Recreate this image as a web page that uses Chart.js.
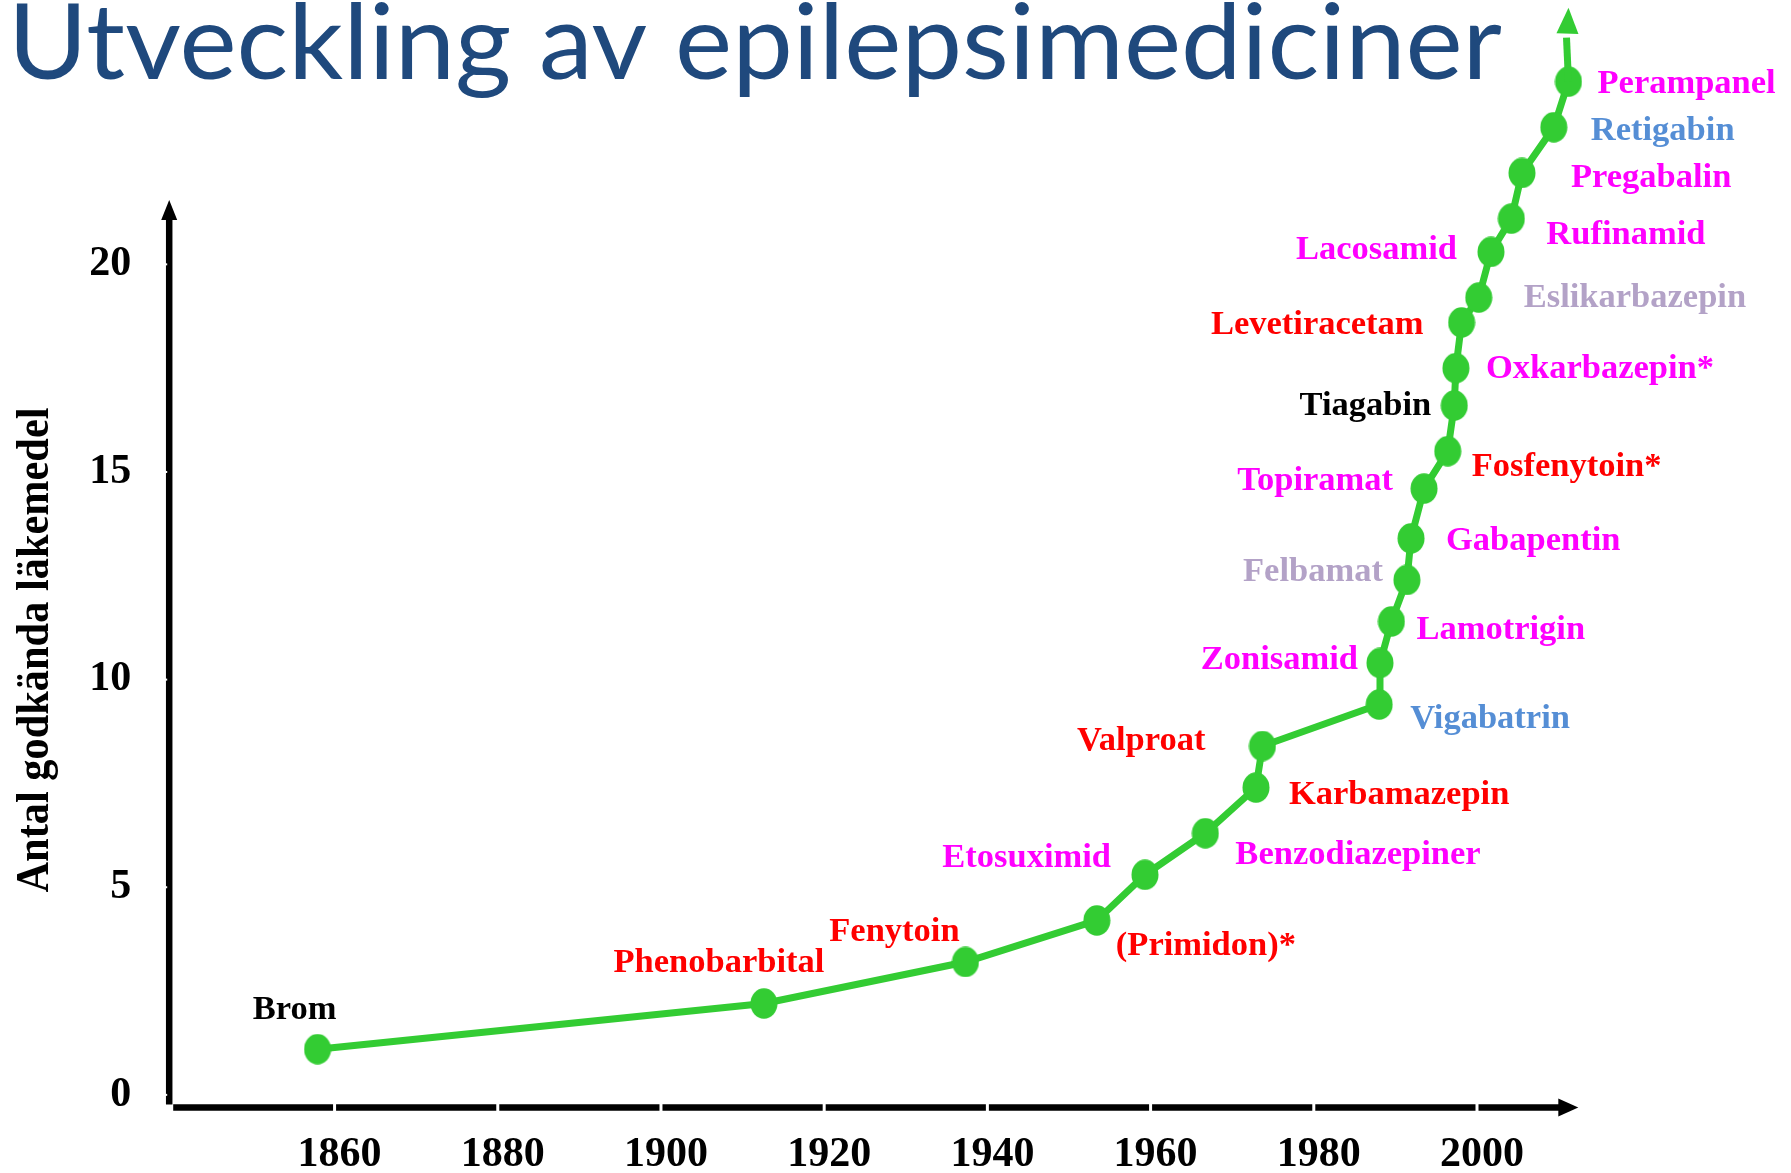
<!DOCTYPE html>
<html lang="sv">
<head>
<meta charset="utf-8">
<title>Utveckling av epilepsimediciner</title>
<script src="https://cdn.jsdelivr.net/npm/chart.js@4.4.1/dist/chart.umd.min.js"></script>
<style>
  html, body { margin: 0; padding: 0; background: #fff; }
  #chart { display: block; }
</style>
</head>
<body>
<canvas id="chart" width="1791" height="1173"></canvas>
<script>
// läkemedel i den ordning de kom
const drugs = [
  "Brom", "Phenobarbital", "Fenytoin", "(Primidon)*", "Etosuximid",
  "Benzodiazepiner", "Karbamazepin", "Valproat", "Vigabatrin", "Zonisamid",
  "Lamotrigin", "Felbamat", "Gabapentin", "Topiramat", "Fosfenytoin*",
  "Tiagabin", "Oxkarbazepin*", "Levetiracetam", "Eslikarbazepin", "Lacosamid",
  "Rufinamid", "Pregabalin", "Retigabin", "Perampanel",
];

// årtal (x)
const approvalYears = [
  1857.3, 1912.0, 1936.7, 1952.8, 1958.7,
  1966.1, 1972.3, 1973.1, 1987.4, 1987.5,
  1988.9, 1990.8, 1991.3, 1992.9, 1995.8,
  1996.6, 1996.8, 1997.5, 1999.6, 2001.1,
  2003.6, 2004.9, 2008.8, 2010.6,
];

// antal godkända läkemedel (y)
const drugCount = [
  1.1, 2.2, 3.2, 4.2, 5.3,
  6.3, 7.4, 8.4, 9.4, 10.4,
  11.4, 12.4, 13.4, 14.6, 15.5,
  16.6, 17.5, 18.6, 19.2, 20.3,
  21.1, 22.2, 23.3, 24.4,
];

const xTickYears = [1860, 1880, 1900, 1920, 1940, 1960, 1980, 2000];
const yTickValues = [0, 5, 10, 15, 20];

// färger
const GREEN = "#33cc33";
const RED = "#ff0000";
const MAGENTA = "#ff00ff";
const BLUE = "#558ed5";
const LILAC = "#b3a2c7";
const BLACK = "#000000";

// etikett: färg, justering, dx, dy (px från punkten)
const labelLayout = [
  [BLACK, "center", -23, -39],
  [RED, "center", -45, -40],
  [RED, "center", -71, -30],
  [RED, "left", 19, 26],
  [MAGENTA, "right", -34, -17],
  [MAGENTA, "left", 30, 22],
  [RED, "left", 33, 8],
  [RED, "right", -57, -5],
  [BLUE, "left", 31, 15],
  [MAGENTA, "right", -22, -3],
  [MAGENTA, "left", 25, 9],
  [LILAC, "right", -24, -8],
  [MAGENTA, "left", 35, 3],
  [MAGENTA, "right", -31, -7],
  [RED, "left", 24, 16],
  [BLACK, "right", -23, 1],
  [MAGENTA, "left", 30, 1],
  [RED, "right", -38, 3],
  [LILAC, "left", 45, 1],
  [MAGENTA, "right", -34, -2],
  [MAGENTA, "left", 35, 16],
  [MAGENTA, "left", 49, 5],
  [BLUE, "left", 37, 4],
  [MAGENTA, "left", 29, 2],
];

// lite högre än breda punkter, som i originalet
function makeDot() {
  const c = document.createElement("canvas");
  c.width = 28;
  c.height = 31;
  const g = c.getContext("2d");
  g.fillStyle = GREEN;
  g.beginPath();
  g.ellipse(14, 15.5, 13.5, 15.2, 0, 0, Math.PI * 2);
  g.fill();
  return c;
}

function arrowHead(ctx, tipX, tipY, dirX, dirY, len, half) {
  const bx = tipX - dirX * len;
  const by = tipY - dirY * len;
  ctx.beginPath();
  ctx.moveTo(tipX, tipY);
  ctx.lineTo(bx - dirY * half, by + dirX * half);
  ctx.lineTo(bx + dirY * half, by - dirX * half);
  ctx.closePath();
  ctx.fill();
}

// axlar med pilar
const axesPlugin = {
  id: "axes",
  beforeDatasetsDraw(chart) {
    const ctx = chart.ctx;
    const xs = chart.scales.x;
    const ys = chart.scales.y;
    const axisY = chart.chartArea.bottom + 1;
    const axisX = chart.chartArea.left + 1;
    const xEnd = xs.getPixelForValue(2011.8);
    const yTop = ys.getPixelForValue(21.55);

    ctx.save();
    ctx.fillStyle = BLACK;
    ctx.strokeStyle = BLACK;
    ctx.lineWidth = 6.5;

    ctx.beginPath();
    ctx.moveTo(axisX, axisY - 3);
    ctx.lineTo(axisX, yTop + 16);
    ctx.stroke();
    arrowHead(ctx, axisX, yTop, 0, -1, 20, 8);

    ctx.beginPath();
    ctx.moveTo(axisX + 4, axisY);
    ctx.lineTo(xEnd - 16, axisY);
    ctx.stroke();
    arrowHead(ctx, xEnd, axisY, 1, 0, 20, 9);

    // små vita skåror vid skalstrecken
    ctx.fillStyle = "#ffffff";
    xTickYears.forEach((v) => {
      const px = xs.getPixelForValue(v) - 5;
      ctx.fillRect(px - 1.5, axisY - 4, 3, 8);
    });
    yTickValues.forEach((v) => {
      const py = ys.getPixelForValue(v);
      ctx.fillRect(axisX - 4, py - 1, 2, 2);
    });
    ctx.restore();
  },
  afterDatasetsDraw(chart) {
    const ctx = chart.ctx;
    const meta = chart.getDatasetMeta(0);
    const pts = meta.data;

    // pil i slutet av kurvan
    const last = pts[pts.length - 1];
    ctx.save();
    ctx.strokeStyle = GREEN;
    ctx.fillStyle = GREEN;
    ctx.lineWidth = 7;
    ctx.beginPath();
    ctx.moveTo(last.x, last.y);
    ctx.lineTo(last.x - 2, last.y - 44);
    ctx.stroke();
    arrowHead(ctx, last.x, last.y - 74, 0.04, -1, 26, 11);
    ctx.restore();

    // namnen på läkemedlen
    ctx.save();
    ctx.font = 'bold 34.5px "Liberation Serif", "Times New Roman", serif';
    ctx.textBaseline = "middle";
    pts.forEach((p, i) => {
      const [color, align, dx, dy] = labelLayout[i];
      ctx.fillStyle = color;
      ctx.textAlign = align;
      ctx.fillText(drugs[i], p.x + dx, p.y + dy);
    });
    ctx.restore();
  },
  afterDraw(chart) {
    const ctx = chart.ctx;

    // rubrik
    ctx.save();
    ctx.font = '104px Lato, "Open Sans", sans-serif';
    ctx.fillStyle = "#1f497d";
    ctx.textBaseline = "alphabetic";
    const title = "Utveckling av epilepsimediciner";
    const w = ctx.measureText(title).width;
    ctx.translate(8, 79);
    ctx.scale(1494 / w, 1);
    ctx.fillText(title, 0, 0);
    ctx.restore();

    // y-axelns titel
    ctx.save();
    ctx.font = 'bold 47px "Liberation Serif", "Times New Roman", serif';
    ctx.fillStyle = BLACK;
    ctx.textAlign = "center";
    ctx.textBaseline = "middle";
    const yt = "Antal godkända läkemedel";
    const tw = ctx.measureText(yt).width;
    ctx.translate(36, 650);
    ctx.rotate(-Math.PI / 2);
    ctx.scale(485 / tw, 1);
    ctx.fillText(yt, 0, 0);
    ctx.restore();
  },
};

const tickFont = {
  family: '"Liberation Serif", "Times New Roman", serif',
  size: 42,
  weight: "bold",
};

const ctx = document.getElementById("chart").getContext("2d");
const chart = new Chart(ctx, {
  type: "line",
  data: {
    datasets: [
      {
        data: approvalYears.map((yr, i) => ({ x: yr, y: drugCount[i] })),
        borderColor: GREEN,
        backgroundColor: GREEN,
        borderWidth: 7,
        pointStyle: makeDot(),
        pointRadius: 14,
        pointHoverRadius: 14,
        tension: 0,
        clip: false,
      },
    ],
  },
  options: {
    responsive: false,
    devicePixelRatio: 1,
    animation: false,
    events: [],
    layout: {
      padding: { top: 12.9, right: 145.8, left: 0, bottom: 0 },
    },
    plugins: {
      legend: { display: false },
      tooltip: { enabled: false },
    },
    scales: {
      x: {
        type: "linear",
        min: 1839,
        max: 2020,
        grid: { display: false },
        border: { display: false },
        ticks: {
          font: tickFont,
          color: BLACK,
          padding: 15,
          maxRotation: 0,
          autoSkip: false,
          callback: (v) => String(v),
        },
        afterBuildTicks: (s) => {
          s.ticks = xTickYears.map((v) => ({ value: v }));
        },
        afterFit: (s) => {
          s.height = 66.5;
          s.paddingLeft = 0;
          s.paddingRight = 0;
        },
      },
      y: {
        type: "linear",
        min: -0.28,
        max: 25.86,
        grid: { display: false },
        border: { display: false },
        ticks: {
          font: tickFont,
          color: BLACK,
          padding: 29,
          callback: (v) => String(v),
        },
        afterBuildTicks: (s) => {
          s.ticks = yTickValues.map((v) => ({ value: v }));
        },
        afterFit: (s) => {
          s.width = 168.2;
          s.paddingTop = 0;
          s.paddingBottom = 0;
        },
      },
    },
  },
  plugins: [axesPlugin],
});
</script>
</body>
</html>
